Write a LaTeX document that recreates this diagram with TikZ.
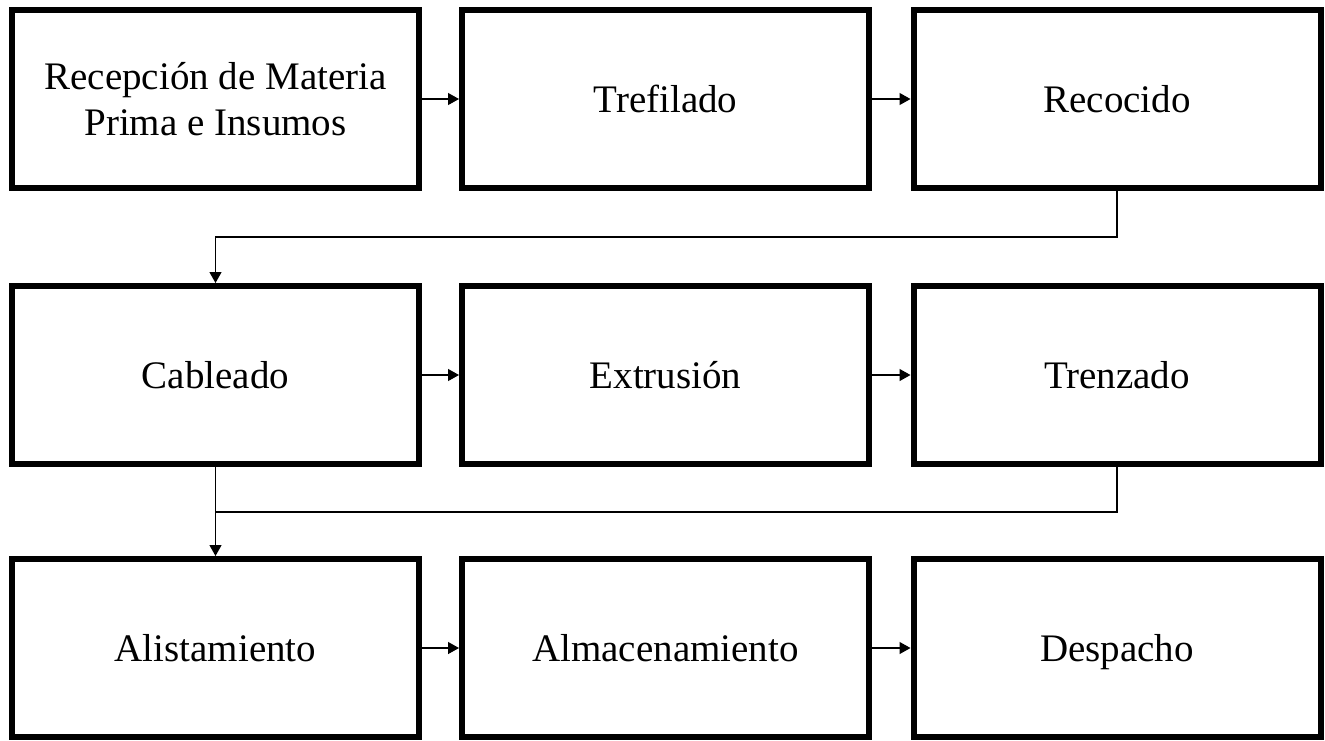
\documentclass[tikz,border=0pt]{standalone}
\usepackage{fontspec}
\setmainfont{Liberation Serif}
\usetikzlibrary{arrows.meta}
\begin{document}
\begin{tikzpicture}[x=1pt,y=-1pt,
  stepbox/.style={draw=black,line width=6pt,minimum width=407pt,minimum height=178pt,inner sep=0pt,align=center,font=\fontsize{39}{46}\selectfont},
  onebox/.style={stepbox,text height=35pt,text depth=9pt},
  conn/.style={draw=black,line width=1.2pt,-{Triangle[length=11pt,width=12pt]}},
  plainline/.style={draw=black,line width=1.2pt}]
\useasboundingbox (0,0) rectangle (1325,740);
\node[stepbox] (n1) at (215.5,99) {Recepción de Materia\\Prima e Insumos};
\node[onebox] (n2) at (665.5,99) {Trefilado};
\node[onebox] (n3) at (1117,99) {Recocido};
\node[onebox] (n4) at (215.5,375) {Cableado};
\node[onebox] (n5) at (665.5,375) {Extrusión};
\node[onebox] (n6) at (1117,375) {Trenzado};
\node[onebox] (n7) at (215.5,648) {Alistamiento};
\node[onebox] (n8) at (665.5,648) {Almacenamiento};
\node[onebox] (n9) at (1117,648) {Despacho};
\coordinate (k1) at (0,237);
\coordinate (k2) at (0,512);
\draw[conn] (n1) -- (n2);
\draw[conn] (n2) -- (n3);
\draw[conn] (n3.south) -- (n3.south |- k1) -| (n4.north);
\draw[conn] (n4) -- (n5);
\draw[conn] (n5) -- (n6);
\draw[plainline] (n6.south) |- (n4.south |- k2);
\draw[conn] (n4.south) -- (n7.north);
\draw[conn] (n7) -- (n8);
\draw[conn] (n8) -- (n9);
\end{tikzpicture}
\end{document}
